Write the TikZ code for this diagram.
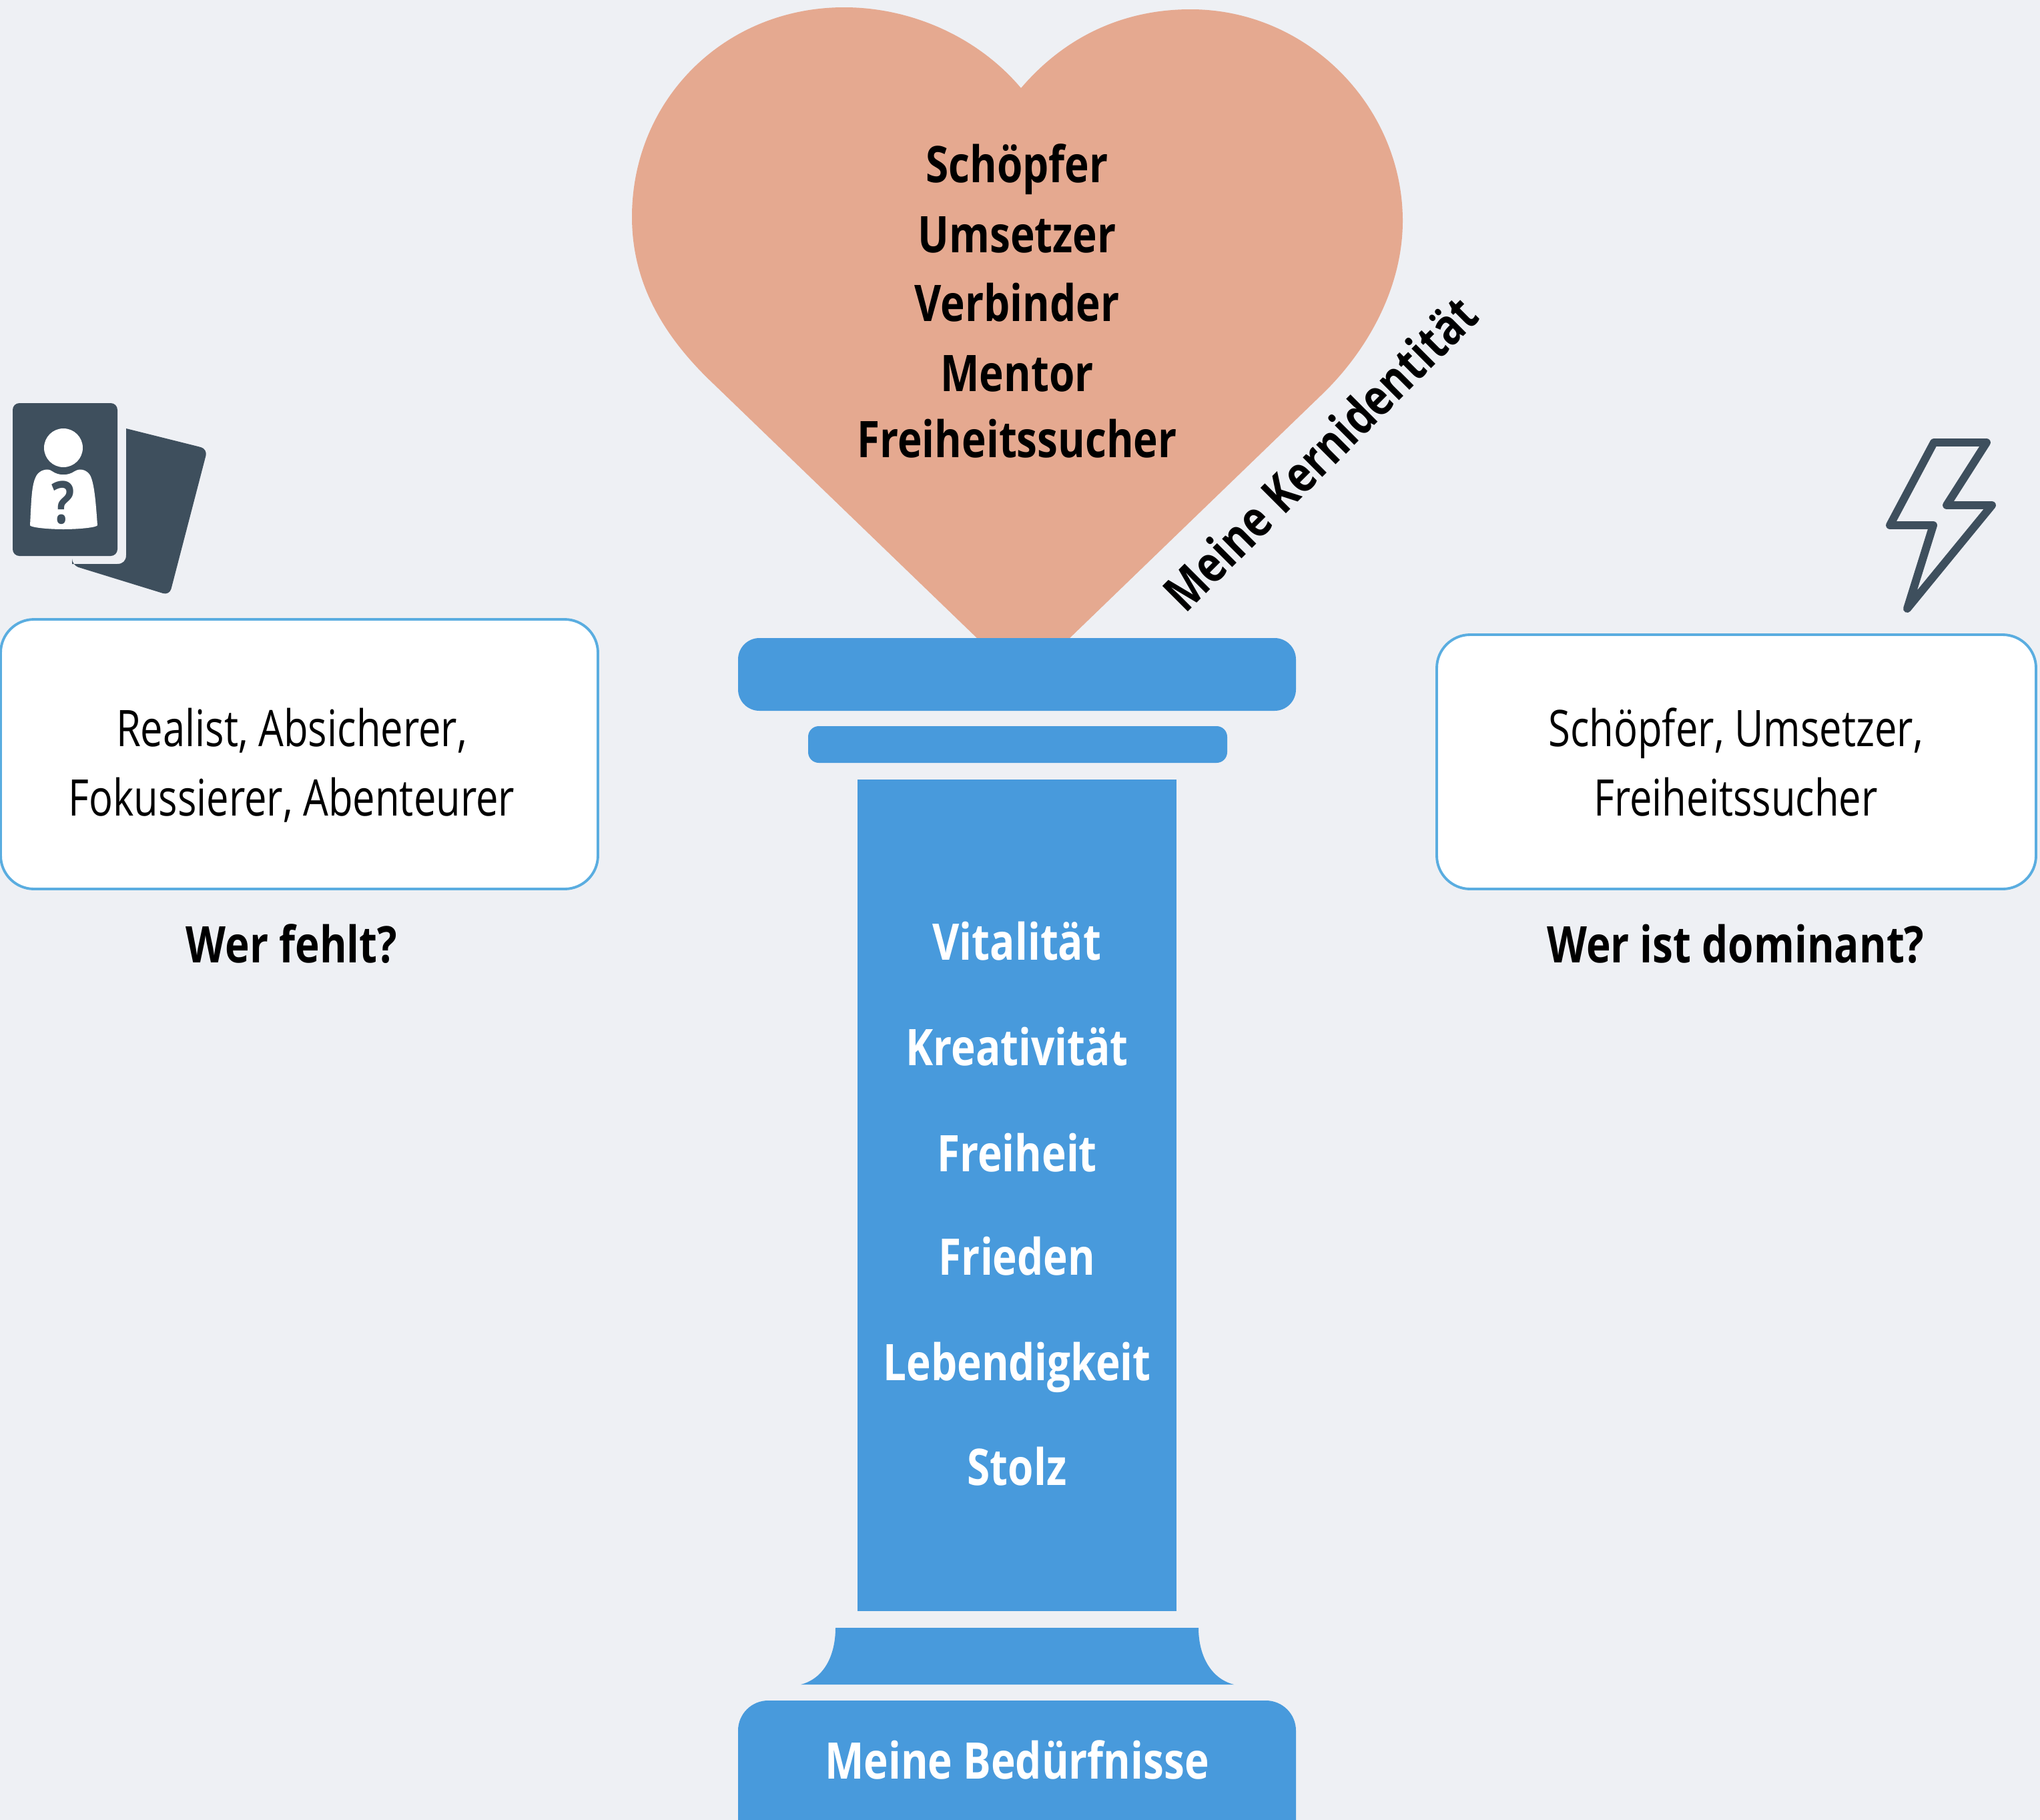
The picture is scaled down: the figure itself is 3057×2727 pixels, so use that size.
\documentclass[tikz,border=0pt]{standalone}
\usepackage{fontspec}
\setmainfont{Open Sans}[FakeStretch=0.79,BoldFeatures={FakeStretch=0.82}]
\definecolor{bgc}{HTML}{EEF0F4}
\definecolor{pillar}{HTML}{489ADC}
\definecolor{heartc}{HTML}{E5A990}
\definecolor{iconc}{HTML}{3E4F5D}
\definecolor{edgec}{HTML}{5AADE0}
\tikzset{
  px/.style={x=0.01cm,y=-0.01cm},
  pfill/.style={fill=pillar,draw=none},
  blk/.style={inner sep=0pt,anchor=base,font=\fontsize{21.5}{24}\selectfont\bfseries,text=black},
  wht/.style={inner sep=0pt,anchor=base,font=\fontsize{21.5}{24}\selectfont\bfseries,text=white},
  reg/.style={inner sep=0pt,anchor=base,font=\fontsize{21.5}{24}\selectfont,text=black},
  card/.style={draw=edgec,line width=1.1pt,fill=white,rounded corners=0.5cm}
}
\begin{document}
\begin{tikzpicture}[px]
\useasboundingbox (0,0) rectangle (3057,2727);
\fill[bgc] (0,0) rectangle (3057,2727);
% heart
\fill[heartc] (1530,132) .. controls (1600,50) and (1690,14) .. (1784,14)
  .. controls (1960,14) and (2102,160) .. (2102,331)
  .. controls (2102,430) and (2050,525) .. (1980,592)
  -- (1602,957) -- (1465,957) -- (1069,575)
  .. controls (995,505) and (947,425) .. (947,325)
  .. controls (947,150) and (1085,11) .. (1265,11)
  .. controls (1365,11) and (1465,55) .. (1530,132) -- cycle;
% column
\fill[pfill,rounded corners=0.32cm] (1106,956) rectangle (1942,1065);
\fill[pfill,rounded corners=0.16cm] (1211,1088) rectangle (1839,1143);
\fill[pfill] (1285,1168) rectangle (1763,2414);
\fill[pfill] (1252,2439) .. controls (1252,2480) and (1235,2515) .. (1200,2524)
  -- (1849,2524) .. controls (1814,2515) and (1796,2480) .. (1796,2439) -- cycle;
\fill[pfill,rounded corners=0.45cm] (1106,2780) -- (1106,2548) -- (1942,2548) -- (1942,2780) -- cycle;
% heart text
\node[blk] (h1) at (1524,273) {Schöpfer};
\node[blk] (h2) at (1524,378) {Umsetzer};
\node[blk] (h3) at (1524,481) {Verbinder};
\node[blk] (h4) at (1524,586) {Mentor};
\node[blk] (h5) at (1524,685) {Freiheitssucher};
\node[blk,rotate=45] (kern) at (1998,699) {Meine Kernidentität};
% column text
\node[wht] (c1) at (1524,1438) {Vitalität};
\node[wht] (c2) at (1524,1596) {Kreativität};
\node[wht] (c3) at (1524,1755) {Freiheit};
\node[wht] (c4) at (1524,1910) {Frieden};
\node[wht] (c5) at (1524,2068) {Lebendigkeit};
\node[wht] (c6) at (1524,2225) {Stolz};
\node[wht] (base) at (1524,2665) {Meine Bedürfnisse};
% boxes
\draw[card] (1,928) rectangle (896,1332);
\draw[card] (2153,951) rectangle (3051,1332);
\node[reg] (l1) at (437,1118) {Realist, Absicherer,};
\node[reg] (l2) at (437,1222) {Fokussierer, Abenteurer};
\node[reg] (r1) at (2601,1118) {Schöpfer, Umsetzer,};
\node[reg] (r2) at (2601,1222) {Freiheitssucher};
\node[blk] (lq) at (437,1442) {Wer fehlt?};
\node[blk] (rq) at (2601,1442) {Wer ist dominant?};
% card icon
\fill[iconc,rounded corners=0.1cm] (19,604) rectangle (176,833);
\fill[iconc] (189,642) -- (297,669) [rounded corners=0.1cm] -- (311,673) -- (254,892) -- (108,847) [sharp corners] -- (108,845) -- (176,845) .. controls (184,845) and (189,840) .. (189,832) -- cycle;
\fill[white] (95,671) circle (29);
\fill[white] (45,787) .. controls (47,750) and (47,725) .. (55,712)
  .. controls (60,704) and (72,701) .. (78,706) .. controls (88,713) and (102,713) .. (112,706)
  .. controls (120,701) and (130,704) .. (135,712) .. controls (142,725) and (144,760) .. (146,787)
  .. controls (146,790) and (120,793) .. (95,793) .. controls (70,793) and (45,790) .. (45,787) -- cycle;
\node[inner sep=0pt,text=iconc,font=\fontsize{25}{25}\selectfont\bfseries] (qm) at (95,753) {?};
% bolt
\draw[iconc,line width=3.4pt,line join=round,line cap=round]
  (2898,663) -- (2977,663) -- (2917,757) -- (2985,757) -- (2858,912) -- (2897,787) -- (2832,787) -- cycle;
\end{tikzpicture}
\end{document}
